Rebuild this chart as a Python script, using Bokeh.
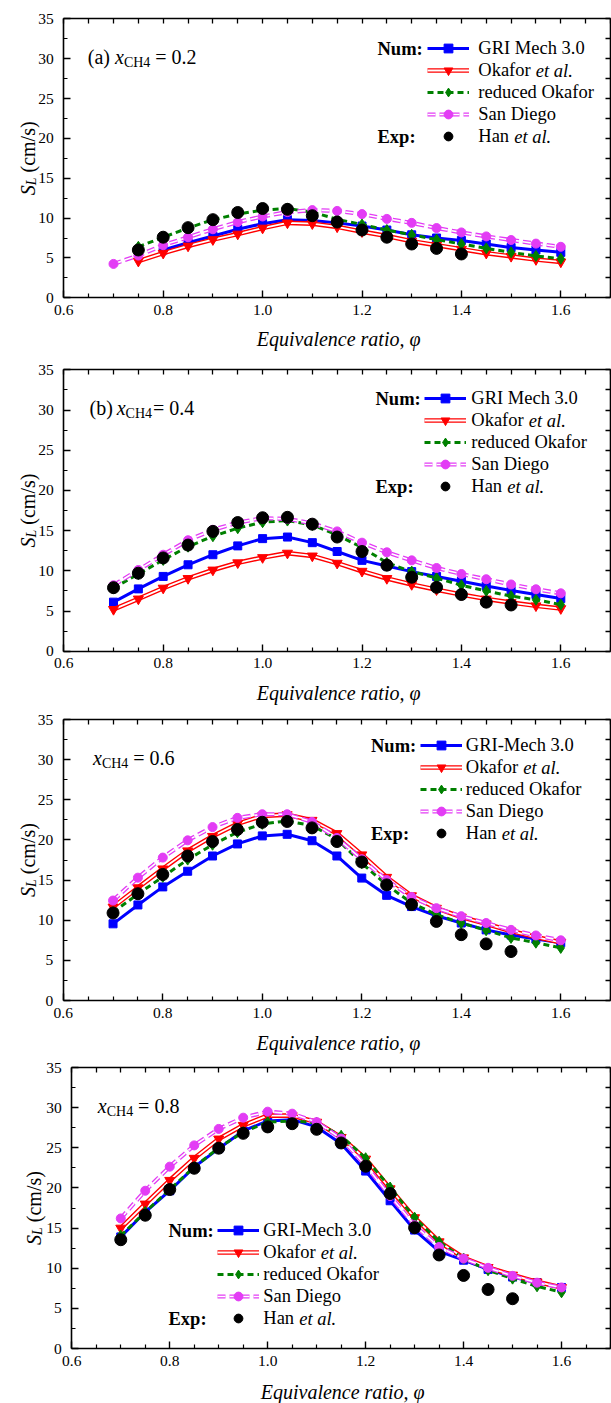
from math import pi
from bokeh.plotting import figure
from bokeh.models import (Range1d, LinearAxis, FixedTicker, PrintfTickFormatter,
                          Legend, LegendItem, Label)
from bokeh.layouts import column
from bokeh.embed import file_html
from bokeh.resources import INLINE

# ---------------- data ----------------
phi_all = [0.70, 0.75, 0.80, 0.85, 0.90, 0.95, 1.00, 1.05, 1.10, 1.15,
           1.20, 1.25, 1.30, 1.35, 1.40, 1.45, 1.50, 1.55, 1.60]
phi_from_075 = [0.75, 0.80, 0.85, 0.90, 0.95, 1.00, 1.05, 1.10, 1.15,
                1.20, 1.25, 1.30, 1.35, 1.40, 1.45, 1.50, 1.55, 1.60]
phi_from_080 = [0.80, 0.85, 0.90, 0.95, 1.00, 1.05, 1.10, 1.15,
                1.20, 1.25, 1.30, 1.35, 1.40, 1.45, 1.50, 1.55, 1.60]
phi_han_a = [0.75, 0.80, 0.85, 0.90, 0.95, 1.00, 1.05, 1.10, 1.15,
             1.20, 1.25, 1.30, 1.35, 1.40]
phi_han = [0.70, 0.75, 0.80, 0.85, 0.90, 0.95, 1.00, 1.05, 1.10, 1.15,
           1.20, 1.25, 1.30, 1.35, 1.40, 1.45, 1.50]

# (a) x_CH4 = 0.2
gri_a = [6.0, 6.9, 7.75, 8.6, 9.3, 9.8, 9.7, 9.4, 9.0, 8.5, 7.9, 7.5, 7.2, 6.75, 6.3, 6.0, 5.7]
okafor_a = [4.6, 5.6, 6.5, 7.3, 8.0, 8.75, 9.4, 9.3, 8.9, 8.3, 7.75, 7.1, 6.6, 6.1, 5.6, 5.2, 4.8, 4.5]
reduced_a = [6.4, 7.6, 8.75, 9.8, 10.5, 11.0, 11.2, 10.75, 9.85, 9.2, 8.5, 7.9, 7.3, 6.75, 6.2, 5.7, 5.25, 4.9]
sandiego_a = [4.25, 5.3, 6.6, 7.6, 8.6, 9.5, 10.2, 10.75, 11.0, 10.9, 10.5, 9.9, 9.4, 8.75, 8.2, 7.7, 7.25, 6.8, 6.4]
han_a = [6.0, 7.6, 8.8, 9.8, 10.7, 11.2, 11.1, 10.3, 9.5, 8.5, 7.6, 6.75, 6.2, 5.5]

# (b) x_CH4 = 0.4
gri_b = [6.1, 7.75, 9.3, 10.75, 12.0, 13.1, 14.0, 14.2, 13.5, 12.4, 11.3, 10.6, 9.9, 9.3, 8.7, 8.1, 7.55, 7.05, 6.55]
okafor_b = [5.2, 6.5, 7.85, 9.05, 10.1, 11.0, 11.65, 12.2, 11.85, 10.95, 9.95, 9.05, 8.3, 7.65, 7.05, 6.5, 6.05, 5.65, 5.3]
reduced_b = [7.85, 9.6, 11.35, 13.0, 14.3, 15.3, 16.05, 16.25, 15.7, 14.45, 12.9, 11.0, 9.9, 9.1, 8.2, 7.5, 6.85, 6.4, 5.8]
sandiego_b = [8.2, 10.1, 12.0, 13.8, 15.1, 16.0, 16.55, 16.45, 15.9, 14.9, 13.5, 12.3, 11.3, 10.35, 9.6, 8.95, 8.3, 7.7, 7.2]
han_b = [7.9, 9.7, 11.6, 13.2, 14.9, 16.0, 16.6, 16.65, 15.8, 14.2, 12.4, 10.7, 9.2, 7.95, 7.05, 6.1, 5.75]

# x_CH4 = 0.6
gri_c = [9.55, 11.9, 14.15, 16.1, 18.0, 19.5, 20.5, 20.7, 19.9, 18.0, 15.25, 13.1, 11.7, 10.55, 9.65, 8.8, 8.15, 7.65, 7.2]
okafor_c = [11.65, 14.05, 16.4, 18.65, 20.45, 22.0, 23.0, 23.15, 22.45, 20.8, 18.15, 15.35, 13.05, 11.5, 10.4, 9.55, 8.65, 7.9, 7.25]
reduced_c = [11.0, 13.25, 15.4, 17.55, 19.4, 20.95, 22.0, 22.35, 21.8, 20.1, 17.1, 14.4, 12.15, 10.7, 9.65, 8.75, 7.8, 7.2, 6.55]
sandiego_c = [12.45, 15.3, 17.8, 19.95, 21.6, 22.75, 23.2, 23.2, 22.25, 20.25, 17.6, 15.0, 12.9, 11.5, 10.5, 9.65, 8.8, 8.1, 7.5]
han_c = [10.9, 13.3, 15.7, 18.0, 19.8, 21.3, 22.2, 22.3, 21.5, 19.8, 17.25, 14.4, 11.95, 9.85, 8.2, 7.05, 6.1]

# x_CH4 = 0.8
gri_d = [13.9, 17.0, 19.65, 22.6, 24.9, 27.1, 28.35, 28.5, 27.6, 25.5, 22.1, 18.4, 14.75, 12.1, 11.0, 9.85, 8.9, 8.2, 7.6]
okafor_d = [15.0, 18.0, 20.95, 23.7, 26.1, 27.8, 29.0, 29.0, 28.2, 26.3, 23.6, 19.9, 16.3, 13.3, 11.3, 10.1, 9.15, 8.3, 7.6]
reduced_d = [14.05, 17.0, 19.8, 22.6, 25.0, 26.95, 28.2, 28.35, 28.1, 26.5, 23.7, 20.05, 16.3, 13.3, 11.2, 9.75, 8.7, 7.75, 7.0]
sandiego_d = [16.2, 19.65, 22.65, 25.3, 27.35, 28.75, 29.5, 29.25, 28.2, 26.15, 22.8, 19.0, 15.35, 12.65, 11.2, 10.05, 9.05, 8.2, 7.6]
han_d = [13.55, 16.6, 19.8, 22.45, 24.95, 26.8, 27.6, 28.0, 27.3, 25.6, 22.7, 19.3, 15.05, 11.65, 9.1, 7.35, 6.2]

x_major = [0.6, 0.8, 1.0, 1.2, 1.4, 1.6]
x_minor = [0.65, 0.7, 0.75, 0.85, 0.9, 0.95, 1.05, 1.1, 1.15, 1.25, 1.3, 1.35,
           1.45, 1.5, 1.55, 1.65, 1.7]
y_major = [0, 5, 10, 15, 20, 25, 30, 35]
y_minor = [2.5, 7.5, 12.5, 17.5, 22.5, 27.5, 32.5]

# ---------------- style ----------------
FONT = "'Liberation Serif', 'Times New Roman', serif"
BLUE = "#0000FF"
RED = "#FF0000"
GREEN = "#008000"
MAG = "#E33CF5"
XA, XB, YA, YB = 0.6, 1.7, 0.0, 35.0   # the axis box
W = 611
BOX_RIGHT = 610                          # pixel column of the right side of the box


def style_axis(ax, tick_standoff):
    ax.axis_line_width = 1.6
    ax.axis_line_color = "black"
    ax.major_tick_in = 7
    ax.major_tick_out = 0
    ax.minor_tick_in = 4
    ax.minor_tick_out = 0
    ax.major_tick_line_width = 1.4
    ax.minor_tick_line_width = 1.2
    ax.major_label_text_font = FONT
    ax.major_label_text_color = "black"
    ax.major_label_text_font_size = "15.5px"
    ax.major_label_standoff = tick_standoff


def mirror_axis(ticks, loc, bounds):
    ax = LinearAxis(ticker=FixedTicker(ticks=[], minor_ticks=ticks),
                    fixed_location=loc, bounds=bounds)
    ax.axis_line_width = 1.6
    ax.axis_line_color = "black"
    ax.major_tick_in = 0
    ax.major_tick_out = 0
    ax.minor_tick_in = 5
    ax.minor_tick_out = 0
    ax.minor_tick_line_width = 1.3
    ax.major_label_standoff = 0
    return ax


def make_panel(cfg):
    H, T, FH, VL = cfg["H"], cfg["T"], cfg["FH"], cfg["VL"]
    B = H - T - FH
    u = (XB - XA) / (BOX_RIGHT - VL)      # data units per pixel (x)
    v = (YB - YA) / FH                    # data units per pixel (y)
    x_rng = Range1d(XA - VL * u, XB + (W - BOX_RIGHT) * u)
    y_rng = Range1d(YA - B * v, YB + T * v)
    p = figure(width=W, height=H, x_range=x_rng, y_range=y_rng,
               output_backend="svg", toolbar_location=None,
               x_axis_location=None, y_axis_location=None, min_border=0)
    p.grid.visible = False
    p.outline_line_color = None

    xa = LinearAxis(ticker=FixedTicker(ticks=x_major, minor_ticks=x_minor),
                    formatter=PrintfTickFormatter(format="%.1f"),
                    fixed_location=YA, bounds=(XA, XB))
    style_axis(xa, 7)
    p.add_layout(xa, "below")

    ya = LinearAxis(ticker=FixedTicker(ticks=y_major, minor_ticks=y_minor),
                    formatter=PrintfTickFormatter(format="%d"),
                    fixed_location=XA, bounds=(YA, YB))
    style_axis(ya, 10)
    p.add_layout(ya, "left")

    p.add_layout(mirror_axis(x_major + x_minor, YB, (XA, XB)), "above")
    p.add_layout(mirror_axis(y_major + y_minor, XB, (YA, YB)), "right")

    def to_data(dx, dy):
        # dx: pixels right of the box's left side; dy: pixels below the box's top
        return XA + dx * u, YB - dy * v

    def lab(dx, dy, text, size, style="normal", baseline="alphabetic", angle=0.0,
            align="left"):
        x, y = to_data(dx, dy)
        p.add_layout(Label(x=x, y=y, text=text, text_font=FONT, text_font_size=size,
                           text_font_style=style, text_color="black", angle=angle,
                           text_baseline=baseline, text_align=align))

    # ---- series ----
    d = cfg["data"]
    b_l = p.line(d["gri_x"], d["gri"], line_color=BLUE, line_width=3)
    b_s = p.scatter(d["gri_x"], d["gri"], marker="square", size=8, color=BLUE)
    r_l1 = p.line(d["ok_x"], d["ok"], line_color=RED, line_width=4.6)
    r_l2 = p.line(d["ok_x"], d["ok"], line_color="white", line_width=1.8)
    r_s = p.scatter(d["ok_x"], d["ok"], marker="inverted_triangle", size=10, color=RED)
    g_l = p.line(d["red_x"], d["red"], line_color=GREEN, line_width=3, line_dash="6 4")
    g_s = p.scatter(d["red_x"], d["red"], marker="diamond", size=11, color=GREEN)
    m_l1 = p.line(d["sd_x"], d["sd"], line_color=MAG, line_width=4.2, line_dash="8 4")
    m_l2 = p.line(d["sd_x"], d["sd"], line_color="white", line_width=1.6, line_dash="8 4")
    m_s = p.scatter(d["sd_x"], d["sd"], marker="circle", size=9, color=MAG)
    k_s = p.scatter(d["han_x"], d["han"], marker="circle", size=12, color="black")

    # ---- legend ----
    lg = cfg["leg"]
    row_h = 22
    n = 5
    legend = Legend(items=[
        LegendItem(label=cfg["gri_name"], renderers=[b_l, b_s]),
        LegendItem(label="Okafor", renderers=[r_l1, r_l2, r_s]),
        LegendItem(label="reduced Okafor", renderers=[g_l, g_s]),
        LegendItem(label="San Diego", renderers=[m_l1, m_l2, m_s]),
        LegendItem(label="Han", renderers=[k_s]),
    ], location=(VL + lg["gx"], H - T - lg["top"] - n * row_h),
        padding=0, margin=0, spacing=0, glyph_width=42, glyph_height=row_h,
        label_height=row_h, label_standoff=lg["stand"],
        label_text_font=FONT, label_text_font_size="18.5px", label_text_color="black",
        background_fill_alpha=0, border_line_alpha=0)
    p.add_layout(legend)

    label_x = lg["gx"] + 42 + lg["stand"]
    r0 = lg["top"] + row_h / 2
    lab(lg["nx"], r0, "Num:", "18.5px", "bold", baseline="middle")
    lab(lg["nx"], r0 + 4 * row_h, "Exp:", "18.5px", "bold", baseline="middle")
    lab(label_x + 57.0, r0 + row_h, "et al.", "18.5px", "italic", baseline="middle")
    lab(label_x + 35.4, r0 + 4 * row_h, "et al.", "18.5px", "italic", baseline="middle")

    # ---- panel annotation ----
    ax, ay = cfg["ann_x"], 38.5
    if cfg["prefix"]:
        lab(ax, ay, cfg["prefix"], "20px")
        ax += 27.2
    lab(ax, ay, "x", "20px", "italic")
    lab(ax + 8.9, ay + 5, "CH4", "14px")
    lab(ax + 8.9 + 26.4 + cfg["eq_gap"], ay, cfg["eq"], "20px")

    # ---- x-axis title ----
    lab((BOX_RIGHT - VL) / 2 + 1.5, FH + cfg["xt_dy"], "Equivalence ratio, \u03c6", "20px",
        "italic", baseline="middle", align="center")

    # ---- y-axis title: S_L (cm/s), rotated ----
    bx = cfg["ytx"] - VL
    ys = FH / 2 + 37
    lab(bx, ys, "S", "20px", "italic", angle=pi / 2)
    lab(bx + 3.5, ys - 10.0, "L", "14px", "italic", angle=pi / 2)
    lab(bx, ys - 22.8, "(cm/s)", "20px", "normal", angle=pi / 2)
    return p


panels = [
    dict(H=359, T=18.3, FH=279.0, VL=63.3, xt_dy=41, gri_name="GRI Mech 3.0",
         prefix="(a) ", eq="= 0.2", eq_gap=5.0, ann_x=24.0, ytx=27.5,
         leg=dict(gx=364, top=19, stand=9, nx=313.7),
         data=dict(gri_x=phi_from_080, gri=gri_a, ok_x=phi_from_075, ok=okafor_a,
                   red_x=phi_from_075, red=reduced_a, sd_x=phi_all, sd=sandiego_a,
                   han_x=phi_han_a, han=han_a)),
    dict(H=350, T=10.3, FH=281.4, VL=63.3, xt_dy=42, gri_name="GRI Mech 3.0",
         prefix="(b) ", eq="= 0.4", eq_gap=1.0, ann_x=25.7, ytx=27.5,
         leg=dict(gx=361, top=18, stand=5, nx=311.7),
         data=dict(gri_x=phi_all, gri=gri_b, ok_x=phi_all, ok=okafor_b,
                   red_x=phi_all, red=reduced_b, sd_x=phi_all, sd=sandiego_b,
                   han_x=phi_han, han=han_b)),
    dict(H=348, T=10.0, FH=281.0, VL=62.8, xt_dy=42, gri_name="GRI-Mech 3.0",
         prefix="", eq="= 0.6", eq_gap=5.0, ann_x=29.7, ytx=27.5,
         leg=dict(gx=357, top=15, stand=4, nx=307.7),
         data=dict(gri_x=phi_all, gri=gri_c, ok_x=phi_all, ok=okafor_c,
                   red_x=phi_all, red=reduced_c, sd_x=phi_all, sd=sandiego_c,
                   han_x=phi_han, han=han_c)),
    dict(H=346, T=10.0, FH=281.0, VL=71.3, xt_dy=43, gri_name="GRI-Mech 3.0",
         prefix="", eq="= 0.8", eq_gap=5.0, ann_x=26.0, ytx=33.5,
         leg=dict(gx=146, top=152, stand=4, nx=96.7),
         data=dict(gri_x=phi_all, gri=gri_d, ok_x=phi_all, ok=okafor_d,
                   red_x=phi_all, red=reduced_d, sd_x=phi_all, sd=sandiego_d,
                   han_x=phi_han, han=han_d)),
]

figs = [make_panel(c) for c in panels]
layout = column(*figs, spacing=0)

open("out.html", "w").write(file_html(layout, INLINE))
